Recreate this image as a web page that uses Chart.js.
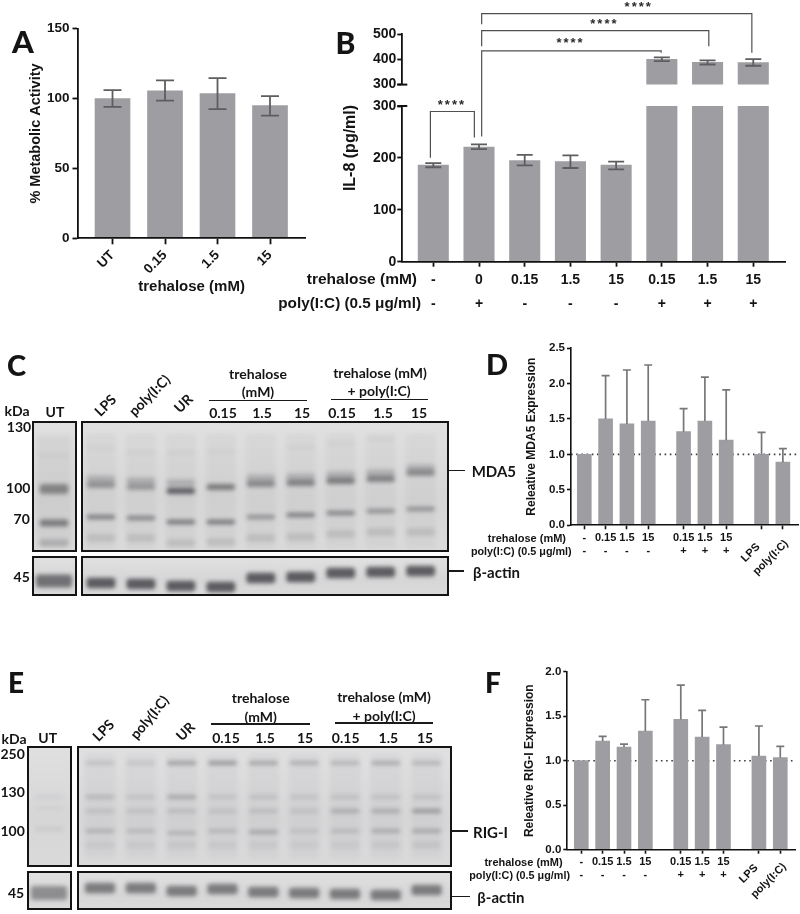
<!DOCTYPE html>
<html><head><meta charset="utf-8">
<script src="https://cdn.jsdelivr.net/npm/chart.js@4"></script>
<style>
html,body{margin:0;padding:0;background:#fff;width:800px;height:914px;overflow:hidden}
#stage{position:relative;width:800px;height:914px;overflow:hidden;filter:blur(.35px)}
canvas{position:absolute}
.t{position:absolute;white-space:nowrap;color:#141414;line-height:1}
.blot{position:absolute;box-sizing:border-box;border:2px solid #141414;overflow:hidden;background:linear-gradient(#e0e0e1,#d6d6d7 60%,#dadadb)}
.blot canvas{left:-2px;top:-2px;filter:blur(2.1px)}
.rule{position:absolute;background:#1a1a1a}
</style></head><body><div id="stage"></div>
<script>
/* ---------- Panel A ---------- */
const aLabels=['UT','0.15','1.5','15'];
const aValues=[100,105.5,103.5,95];
const aHigh=[106,113,114.7,101.8];
const aLow=[94,98.5,92.5,87.8];
/* ---------- Panel B ---------- */
const bTrehalose=['-','0','0.15','1.5','15','0.15','1.5','15'];
const bPoly=['-','+','-','-','-','+','+','+'];
const bValues=[186,221,195,193,186,400,389,388];
const bHigh=[190,226,206,205,192.7,408,396.5,401];
const bLow=[182,217,185.7,180.5,178,393,380,375];
const bLowerTicks=[0,100,200,300];
const bUpperTicks=[300,400,500];
const bracketFrom=[0.95,2.07,2.07,2.07];
const bracketTo=[1.91,5.99,7.03,7.97];
const bracketTop=[290,406.6,445.8,478.5];
const bracketStartEnd=[201,242,415.6,458];
const bracketStopEnd=[240,403,415.6,403];
const starAt=[1.42,4.01,4.75,5.5];
const starLevel=[302,422,457,491];
/* ---------- Panels D and F ---------- */
const exprTrehalose=['-','0.15','1.5','15','0.15','1.5','15','',''];
const exprPoly=['-','-','-','-','+','+','+','',''];
const exprGroup=[0,0,0,0,1,1,1,2,2];
const dValues=[1.0,1.5,1.43,1.47,1.32,1.47,1.2,1.0,0.89];
const dHigh=[null,2.11,2.19,2.26,1.645,2.09,1.91,1.31,1.08];
const fValues=[1.0,1.22,1.153,1.333,1.464,1.266,1.18,1.052,1.034];
const fHigh=[null,1.273,1.187,1.685,1.85,1.565,1.378,1.39,1.16];
/* ---------- Blot C (migration read from the gel) ---------- */
const mdaTop=[27,32,32,31,null,26,23,18,null];
const mdaUpperFaint=[58,60,62,null,57,56,54,52,47];
const mdaUpper=[64,66,70,66,63,62,60,58,52];
const mdaLower=[96,97,101,101,96,94,92,90,88];
const mdaLow=[117,117,122,121,117,116,113,111,111];
const mdaUpperDensity=[.38,.34,.68,.52,.44,.48,.52,.48,.42];
const mdaLowerDensity=[.5,.46,.55,.55,.38,.5,.46,.38,.38];
const mdaUT=[35,68,102,122];
const cActin=[27,28,30,31,22,21,17,16,15];
const cActinUT=[25];
/* ---------- Blot E ---------- */
const rigTop=[17,17,17,17,17,17,17,17,17];
const rigTopDensity=[.16,.13,.38,.42,.34,.28,.24,.3,.24];
const rigMid=[51,51,51,51,51,51,51,51,51];
const rigMidDensity=[.2,.12,.3,.12,.15,.12,.15,.14,.14];
const rigNext=[65,65,65,65,65,65,65,65,65];
const rigNextDensity=[.12,.12,.15,.11,.15,.11,.25,.25,.36];
const rigMain=[85,85,87,85,86,85,85,85,85];
const rigMainDensity=[.24,.18,.22,.2,.3,.14,.18,.28,.3];
const rigLow=[99,99,99,99,99,99,99,99,99];
const rigLowDensity=[.06,.06,.07,.06,.06,.05,.06,.07,.08];
const eActin=[17,17,20,18,21,22,23,24,19];
const eActinUT=[22];

const stage=document.getElementById('stage');
const SANS='"Liberation Sans",Arial,sans-serif';
const LATO='Lato,sans-serif';
const BAR='#9e9ea2', INK='#141414';
Chart.defaults.animation=false;
Chart.defaults.responsive=false;
Chart.defaults.devicePixelRatio=1;
Chart.defaults.plugins.legend.display=false;
Chart.defaults.plugins.tooltip.enabled=false;

function text(s,x,y,o={}){
  const d=document.createElement('div');d.className='t';d.textContent=s;
  const ax=o.align==='right'?'-100%':o.align==='left'?'0':'-50%';
  d.style.cssText=`left:${x}px;top:${y}px;font:${o.weight||700} ${o.size||13}px ${o.family||LATO};transform:translate(${ax},-50%) rotate(${o.rot||0}deg)`;
  stage.appendChild(d);return d;
}
function rule(x0,x1,y,h){const d=document.createElement('div');d.className='rule';
  d.style.cssText=`left:${x0}px;top:${y-h/2}px;width:${x1-x0}px;height:${h}px`;stage.appendChild(d);}
function canvas(box,parent){const c=document.createElement('canvas');c.width=box.w;c.height=box.h;
  c.style.left=box.l+'px';c.style.top=box.t+'px';(parent||stage).appendChild(c);return c;}

const errorBars={id:'errorBars',afterDatasetsDraw(chart,_,o){
  const {ctx,scales:{x,y},chartArea:a}=chart;
  ctx.save();ctx.strokeStyle=o.color;ctx.lineWidth=o.width;
  ctx.beginPath();ctx.rect(a.left-20,a.top-1,a.right-a.left+40,a.bottom-a.top+1);ctx.clip();
  o.xs.forEach((v,i)=>{
    const hi=o.high[i],lo=o.low?o.low[i]:null; if(hi==null) return;
    const px=x.getPixelForValue(v),py=y.getPixelForValue(hi),base=y.getPixelForValue(lo==null?o.values[i]:lo);
    if(o.onlyAbove!=null&&o.values[i]<o.onlyAbove) return;
    if(o.onlyBelow!=null&&o.values[i]>o.onlyBelow) return;
    ctx.beginPath();ctx.moveTo(px,py);ctx.lineTo(px,base);
    ctx.moveTo(px-o.cap/2,py);ctx.lineTo(px+o.cap/2,py);
    if(lo!=null){ctx.moveTo(px-o.cap/2,base);ctx.lineTo(px+o.cap/2,base);}
    ctx.stroke();
  });
  ctx.restore();
}};
const axisBreak={id:'axisBreak',afterDraw(chart,_,o){
  if(!o||o.at==null) return;
  const {ctx,scales:{y},chartArea:a}=chart;const py=y.getPixelForValue(o.at);
  ctx.save();ctx.strokeStyle='#111';ctx.lineWidth=2;ctx.beginPath();ctx.moveTo(a.left-5,py);ctx.lineTo(a.left+5,py);ctx.stroke();ctx.restore();
}};

function plot(cfg){
  const {box,rect,xs,values,xMin,xMax,labels}=cfg;
  const hasX=cfg.hasX!==false;
  const ds=[{type:'bar',data:xs.map((v,i)=>({x:v,y:values[i]})),backgroundColor:BAR,barThickness:cfg.barW,order:2}];
  if(cfg.refLine!=null) ds.push({type:'line',data:[{x:xMin,y:cfg.refLine},{x:xMax,y:cfg.refLine}],
    borderColor:'#3d3d3d',borderWidth:1.6,borderDash:[1.6,3.6],pointRadius:0,order:3});
  const tickFont={family:SANS,weight:'bold',size:cfg.tickSize};
  return new Chart(canvas(box),{type:'bar',data:{datasets:ds},plugins:[errorBars,axisBreak],options:{
    layout:{padding:{top:rect.t-box.t,right:box.l+box.w-rect.r,left:0,bottom:hasX?0:box.t+box.h-rect.b}},
    plugins:{errorBars:cfg.err,axisBreak:cfg.brk||{}},
    scales:{
      x:{type:'linear',display:hasX,offset:false,min:xMin,max:xMax,
        grid:{offset:false,drawOnChartArea:false,drawTicks:true,tickLength:cfg.xTick,tickWidth:cfg.axisW,tickColor:'#111'},
        border:{color:'#111',width:cfg.axisW,z:2},
        afterBuildTicks:s=>{s.ticks=xs.map(v=>({value:v}));},
        afterFit:s=>{s.height=box.t+box.h-rect.b;s.paddingLeft=s.paddingRight=s.paddingTop=s.paddingBottom=0;},
        ticks:{autoSkip:false,color:INK,font:cfg.xFont||tickFont,padding:cfg.xPad,minRotation:cfg.xRot||0,maxRotation:cfg.xRot||0,
          callback:(v,i)=>labels?labels(i):''},
        title:cfg.xTitle||{display:false}},
      y:{min:cfg.yMin,max:cfg.yMax,
        grid:{drawOnChartArea:false,tickLength:cfg.yTick,tickWidth:cfg.axisW,tickColor:'#111'},
        border:{color:'#111',width:cfg.axisW,z:2},
        afterBuildTicks:cfg.yTicks?(s=>{s.ticks=cfg.yTicks.map(v=>({value:v}));}):undefined,
        afterFit:s=>{s.width=rect.l-box.l;s.paddingTop=s.paddingBottom=s.paddingLeft=s.paddingRight=0;},
        ticks:{color:INK,font:tickFont,padding:cfg.yPad,stepSize:cfg.step,autoSkip:false,
          callback:cfg.yFmt||(v=>v)},
        title:cfg.yTitle||{display:false}}
    }}});
}
function axisTitle(s,size,pad){return {display:true,text:s,color:INK,font:{family:SANS,weight:'bold',size},padding:pad};}

/* Panel A */
const aX=aValues.map((_,i)=>i+1);
plot({box:{l:0,t:0,w:340,h:298},rect:{l:77.5,t:28.7,r:305.7,b:238.3},xs:aX,values:aValues,xMin:.333,xMax:4.68,
  barW:35,labels:i=>aLabels[i],xRot:45,yMin:0,yMax:150,step:50,tickSize:13.5,axisW:1.8,xTick:6,yTick:5,xPad:3,yPad:3,
  err:{xs:aX,values:aValues,high:aHigh,low:aLow,color:'#5e5e60',width:1.8,cap:18},
  yTitle:axisTitle('% Metabolic Activity',14.5,{top:27}),
  xTitle:axisTitle('trehalose (mM)',15,{top:0,bottom:2})});

/* Panel B: broken axis drawn as two stacked plots sharing one series */
const bX=bValues.map((_,i)=>i+1);
plot({box:{l:360,t:20,w:440,h:80},rect:{l:402.3,t:34.3,r:785,b:92.3},xs:bX,values:bValues,xMin:.322,xMax:8.694,hasX:false,
  barW:30.4,yMin:300,yMax:500,yTicks:bUpperTicks,tickSize:14,axisW:1.8,xTick:5,yTick:5,yPad:1,
  err:{xs:bX,values:bValues,high:bHigh,low:bLow,color:'#5e5e60',width:1.8,cap:16,onlyAbove:300},
  brk:{at:300}});
plot({box:{l:360,t:100,w:440,h:216},rect:{l:402.3,t:106,r:785,b:261.7},xs:bX,values:bValues,xMin:.322,xMax:8.694,
  barW:30.4,yMin:0,yMax:300,yTicks:bLowerTicks,tickSize:14,axisW:1.8,xTick:5,yTick:5,xPad:1,yPad:1,
  labels:i=>[bTrehalose[i],bPoly[i]],
  xFont:{family:SANS,weight:'bold',size:14,lineHeight:1.75},
  err:{xs:bX,values:bValues,high:bHigh,low:bLow,color:'#5e5e60',width:1.8,cap:16,onlyBelow:299},
  brk:{at:300}});
/* Panel B significance brackets, on the lower axis' units */
new Chart(canvas({l:402,t:0,w:383,h:262}),{type:'scatter',
  data:{datasets:bracketFrom.map((f,i)=>({showLine:true,borderColor:'#505052',borderWidth:1.2,pointRadius:0,
    data:[{x:f,y:bracketStartEnd[i]},{x:f,y:bracketTop[i]},{x:bracketTo[i],y:bracketTop[i]},{x:bracketTo[i],y:bracketStopEnd[i]}]}))},
  plugins:[{id:'stars',afterDatasetsDraw(c){const {ctx,scales:{x,y}}=c;ctx.save();
    ctx.font='bold 13px '+SANS;ctx.fillStyle='#2a2a2a';ctx.textAlign='center';ctx.textBaseline='middle';
    if('letterSpacing' in ctx) ctx.letterSpacing='2px';
    starAt.forEach((v,i)=>ctx.fillText('****',x.getPixelForValue(v),y.getPixelForValue(starLevel[i])));ctx.restore();}}],
  options:{layout:{padding:0},scales:{x:{display:false,min:.33,max:8.694},y:{display:false,min:0,max:504.8}}}});
text('IL-8 (pg/ml)',350,148,{family:SANS,size:16,rot:-90});
text('trehalose (mM)',417,278.5,{family:SANS,size:15.5,align:'right'});
text('poly(I:C) (0.5 μg/ml)',421,303,{family:SANS,size:15.3,align:'right'});

/* Panels D and F */
function exprPanel(o){
  const xs=o.values.map((_,i)=>i+1+exprGroup[i]*0.66);
  plot({box:o.box,rect:o.rect,xs,values:o.values,xMin:o.xMin,xMax:o.xMax,barW:14,
    labels:i=>[exprTrehalose[i],exprPoly[i]],xFont:{family:SANS,weight:'bold',size:11,lineHeight:1.18},
    yMin:0,yMax:o.yMax,step:.5,tickSize:11.5,axisW:1.6,xTick:4,yTick:4,xPad:2,yPad:2,refLine:1,
    yFmt:v=>Number(v).toFixed(1),
    err:{xs,values:o.values,high:o.high,color:'#77777b',width:1.7,cap:8},
    yTitle:axisTitle(o.title,12,{top:o.titlePad})});
}
exprPanel({box:{l:510,t:336,w:290,h:230},rect:{l:571,t:348,r:798,b:525.3},values:dValues,high:dHigh,xMin:.376,xMax:11.03,yMax:2.5,
  title:'Releative MDA5 Expression',titlePad:14.5});
exprPanel({box:{l:510,t:660,w:290,h:230},rect:{l:567.3,t:671.7,r:795,b:849.7},values:fValues,high:fHigh,xMin:.344,xMax:11.01,yMax:2,
  title:'Releative RIG-I Expression',titlePad:12});
[[566,537.7,571.7,550.7],[562.7,862.3,570,875]].forEach(r=>{
  text('trehalose (mM)',r[0],r[1],{family:SANS,size:11,align:'right'});
  text('poly(I:C) (0.5 μg/ml)',r[2],r[3],{family:SANS,size:10.8,align:'right'});
});
text('LPS',750,551.7,{family:SANS,size:11,rot:-45});
text('poly(I:C)',770,556.7,{family:SANS,size:11,rot:-45});
text('LPS',748,873,{family:SANS,size:11,rot:-45});
text('poly(I:C)',767.7,880,{family:SANS,size:11,rot:-45});

/* Blots: floating bars over a lane scale, softened by the gel blur */
function blot(o){
  const wrap=document.createElement('div');wrap.className='blot';
  wrap.style.cssText=`left:${o.l}px;top:${o.t}px;width:${o.w}px;height:${o.h}px`;stage.appendChild(wrap);
  const n=o.bands[0].at.length;
  const datasets=o.bands.map(b=>({
    data:b.at.map(v=>v==null?null:[v-b.th/2,v+b.th/2]),
    backgroundColor:b.at.map((_,i)=>`rgba(40,40,45,${b.den?b.den[i]:b.a})`),
    barPercentage:b.wide||.72,categoryPercentage:1,grouped:false,borderRadius:3,borderSkipped:false}));
  new Chart(canvas({l:-2,t:-2,w:o.w,h:o.h},wrap),{type:'bar',
    data:{labels:Array.from({length:n},(_,i)=>i),datasets},
    options:{layout:{padding:{left:o.padL||0,right:o.padR||0,top:0,bottom:0}},
      scales:{x:{display:false},y:{display:false,reverse:true,min:0,max:o.h}}}});
}
const laneSmear=a=>a.map(()=>70);
blot({l:32,t:421,w:45,h:131,padL:2,padR:3,bands:[
  {at:[70],th:112,a:.05,wide:.85},
  {at:[mdaUT[0]],th:2,a:.08},{at:[mdaUT[1]],th:10,a:.45},{at:[mdaUT[2]],th:7,a:.5},{at:[mdaUT[3]],th:8,a:.2}]});
blot({l:80.7,t:421,w:368,h:131,padR:8.4,bands:[
  {at:laneSmear(mdaUpper),th:115,a:.04},
  {at:mdaTop,th:2,a:.07},{at:mdaUpperFaint,th:7,a:.22},
  {at:mdaUpper,th:6,den:mdaUpperDensity},{at:mdaLower,th:4.5,den:mdaLowerDensity},{at:mdaLow,th:8,a:.12}]});
blot({l:32,t:556,w:45,h:40,padL:2,padR:3,bands:[{at:cActinUT,th:13,a:.58,wide:.9}]});
blot({l:80.7,t:556,w:368,h:40,padR:8.4,bands:[{at:cActin,th:10.5,a:.7,wide:.72}]});
blot({l:27,t:746,w:45,h:121,padL:2,padR:3,bands:[
  {at:[51],th:3,a:.08},{at:[62],th:3,a:.05},{at:[83],th:4,a:.08}]});
blot({l:77,t:746,w:375,h:121,padL:2.6,padR:5,bands:[
  {at:rigMain.map(()=>60),th:105,a:.035},
  {at:rigTop,den:rigTopDensity,th:3.5},{at:rigMid,den:rigMidDensity,th:3.5},{at:rigNext,den:rigNextDensity,th:4},
  {at:rigMain,den:rigMainDensity,th:3.5},{at:rigLow,den:rigLowDensity,th:7}]});
blot({l:27,t:871,w:45,h:39,padL:2,padR:3,bands:[{at:eActinUT,th:14,a:.42,wide:.9}]});
blot({l:77,t:871,w:375,h:39,padL:2.6,padR:5,bands:[{at:eActin,th:10.5,a:.52,wide:.74}]});

/* Blot annotation text */
function blotText(list,size){list.forEach(a=>text(a[0],a[1],a[2],{size:size||13,rot:a[3]||0}));}
blotText([['kDa',17,410],['UT',55,411],['130',19,426],['100',18.3,486.7],['70',21.7,518],['45',21.7,576],
  ['LPS',105,405,-45],['poly(I:C)',149,395,-45],['UR',183,403,-45],
  ['trehalose',258,373],['(mM)',258,390.7],['0.15',223,411.7],['1.5',262,411.7],['15',302,411.7],
  ['trehalose (mM)',380,372],['+ poly(I:C)',379,390],['0.15',342,411.7],['1.5',383,411.7],['15',419,411.7],
  ['kDa',14,737.7],['UT',47.7,736.7],['250',12.7,752.7],['130',12.7,791],['100',12.7,830],['45',16,891.7],
  ['LPS',103.3,730,-45],['poly(I:C)',149,716.7,-50],['UR',185,731,-45],
  ['trehalose',260.7,697.3],['(mM)',260.7,716],['0.15',226,736.7],['1.5',265,736.7],['15',305,736.7],
  ['trehalose (mM)',384,696],['+ poly(I:C)',384,715],['0.15',345.7,736.7],['1.5',388.3,736.7],['15',425,736.7]],14);
rule(209,307,400.7,1.6);rule(331,428,399.5,1.6);rule(211,310,724,1.6);rule(335,433.3,723,1.6);
rule(448.7,465,470.7,1.6);rule(448.7,464,571,1.6);rule(452,468,831,1.6);rule(452,470,896.7,1.6);
text('MDA5',471.7,471,{size:15,align:'left'});
text('β-actin',473,572,{size:15,align:'left'});
text('RIG-I',473,832,{size:15,align:'left'});
text('β-actin',477.3,897,{size:15,align:'left'});

/* Panel letters */
[['A',23,41,31],['B',345.5,42,30],['C',16.5,364,29],['D',497,363,29],['E',16,682,28],['F',493,682,28]].forEach(p=>
  text(p[0],p[1],p[2],{size:p[3],weight:900}));
</script></body></html>
